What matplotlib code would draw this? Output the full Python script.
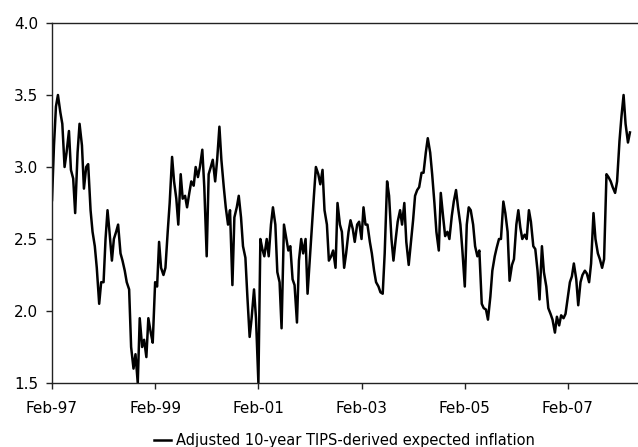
import numpy as np
import pandas as pd
import matplotlib
matplotlib.use("Agg")
import matplotlib.pyplot as plt
import matplotlib.dates as mdates

# half-monthly readings of the series, starting 1 Feb 1997
start_date = "1997-02-01"
inflation = [
    2.77, 3.15, 3.42, 3.50, 3.38, 3.30, 3.00, 3.10, 3.25, 2.98,
    2.92, 2.68, 3.10, 3.30, 3.15, 2.85, 3.00, 3.02, 2.70, 2.55,
    2.45, 2.30, 2.05, 2.20, 2.20, 2.50, 2.70, 2.55, 2.35, 2.50,
    2.55, 2.60, 2.40, 2.35, 2.28, 2.20, 2.15, 1.75, 1.60, 1.70,
    1.50, 1.95, 1.75, 1.80, 1.68, 1.95, 1.85, 1.78, 2.20, 2.17,
    2.48, 2.30, 2.25, 2.30, 2.55, 2.75, 3.07, 2.90, 2.78, 2.60,
    2.95, 2.78, 2.80, 2.72, 2.82, 2.90, 2.87, 3.00, 2.93, 3.00,
    3.12, 2.86, 2.38, 2.95, 3.00, 3.05, 2.90, 3.05, 3.28, 3.05,
    2.86, 2.72, 2.60, 2.70, 2.18, 2.65, 2.72, 2.80, 2.65, 2.45,
    2.37, 2.10, 1.82, 1.95, 2.15, 1.95, 1.50, 2.50, 2.43, 2.38,
    2.50, 2.38, 2.60, 2.72, 2.60, 2.27, 2.20, 1.88, 2.60, 2.52,
    2.42, 2.45, 2.22, 2.18, 1.92, 2.35, 2.50, 2.40, 2.50, 2.12,
    2.38, 2.60, 2.80, 3.00, 2.95, 2.88, 2.98, 2.70, 2.60, 2.35,
    2.38, 2.42, 2.30, 2.75, 2.60, 2.55, 2.30, 2.40, 2.55, 2.63,
    2.57, 2.48, 2.60, 2.62, 2.50, 2.72, 2.60, 2.60, 2.48, 2.40,
    2.28, 2.20, 2.17, 2.13, 2.12, 2.40, 2.90, 2.80, 2.50, 2.35,
    2.50, 2.62, 2.70, 2.60, 2.75, 2.48, 2.32, 2.46, 2.63, 2.80,
    2.84, 2.86, 2.96, 2.96, 3.10, 3.20, 3.10, 2.95, 2.75, 2.55,
    2.42, 2.82, 2.65, 2.52, 2.55, 2.50, 2.66, 2.76, 2.84, 2.72,
    2.60, 2.42, 2.17, 2.60, 2.72, 2.70, 2.60, 2.45, 2.38, 2.42,
    2.05, 2.02, 2.01, 1.94, 2.10, 2.28, 2.38, 2.44, 2.50, 2.50,
    2.76, 2.68, 2.55, 2.21, 2.32, 2.36, 2.60, 2.70, 2.58, 2.50,
    2.53, 2.50, 2.70, 2.62, 2.45, 2.43, 2.28, 2.08, 2.45, 2.27,
    2.17, 2.02, 1.98, 1.94, 1.85, 1.96, 1.90, 1.97, 1.95, 1.98,
    2.10, 2.20, 2.24, 2.33, 2.22, 2.04, 2.20, 2.25, 2.28, 2.26,
    2.20, 2.33, 2.68, 2.50, 2.40, 2.36, 2.30, 2.36, 2.95, 2.93,
    2.90, 2.86, 2.82, 2.90, 3.18, 3.35, 3.50, 3.30, 3.17, 3.24,
]
tick_years = [1997, 1999, 2001, 2003, 2005, 2007]
y_ticks = [1.5, 2.0, 2.5, 3.0, 3.5, 4.0]
series_label = "Adjusted 10-year TIPS-derived expected inflation"

dates = pd.date_range(start_date, periods=len(inflation), freq="SMS")

plt.rcParams["font.family"] = ["DejaVu Sans"]
fig = plt.figure(figsize=(6.38, 4.47), dpi=100)
ax = fig.add_axes([52 / 638, 64 / 447, 585 / 638, 360 / 447])

ax.plot(dates, inflation, color="black", lw=1.8, label=series_label)

ax.set_xlim(pd.Timestamp("1997-02-01"), pd.Timestamp("2008-06-04"))
ax.set_ylim(1.5, 4.0)
ax.set_yticks(y_ticks)
ax.set_yticklabels([f"{v:.1f}" for v in y_ticks])
ax.set_xticks([pd.Timestamp(f"{y}-02-01") for y in tick_years])
ax.xaxis.set_major_formatter(mdates.DateFormatter("%b-%y"))

ax.spines["right"].set_visible(False)
for s in ["left", "bottom", "top"]:
    ax.spines[s].set_linewidth(1.0)
    ax.spines[s].set_color("#222222")
ax.tick_params(axis="both", direction="out", length=4, width=1.0,
               labelsize=11, color="#222222")
ax.tick_params(axis="x", pad=9)
ax.tick_params(axis="y", pad=6)

fig.legend(loc="center", bbox_to_anchor=(344 / 638, 6 / 447), frameon=False,
           fontsize=10.5, handlelength=1.2, handletextpad=0.3,
           borderaxespad=0)

fig.savefig("out.png", dpi=100)
